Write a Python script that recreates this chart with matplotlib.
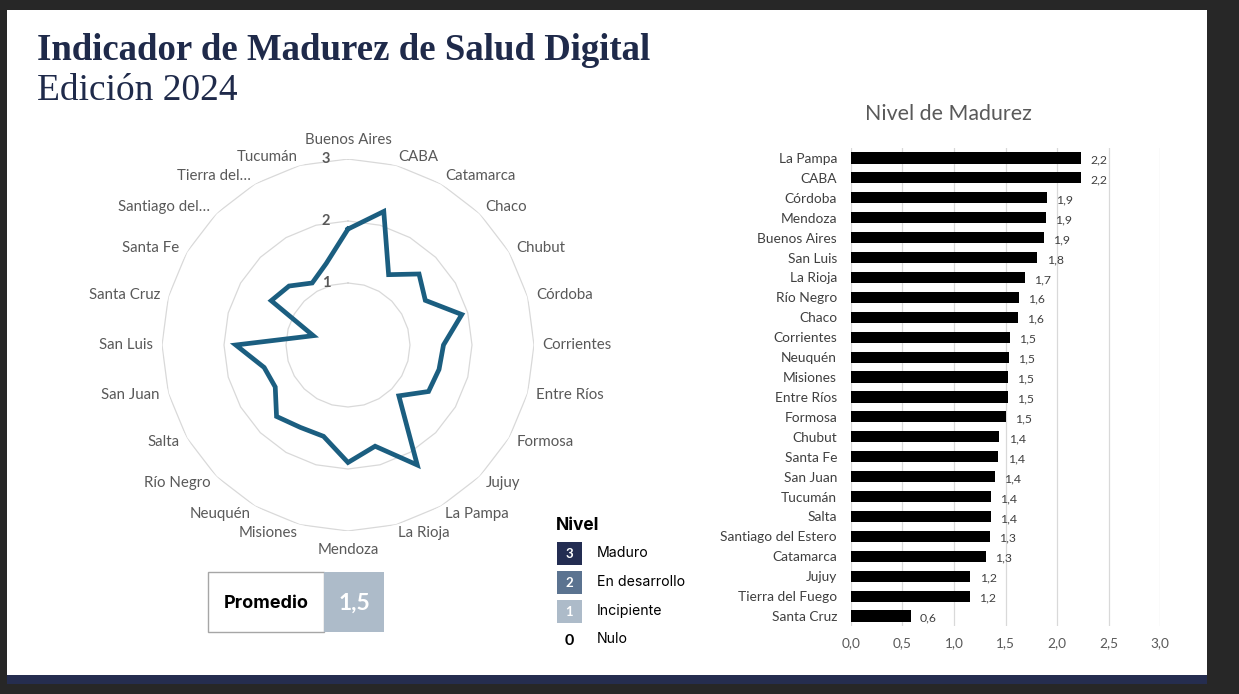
import numpy as np
import matplotlib.pyplot as plt
from matplotlib.patches import Rectangle

# Provincias en el orden del radar (alfabetico, sentido horario desde arriba)
provincias = ['Buenos Aires', 'CABA', 'Catamarca', 'Chaco', 'Chubut', 'Córdoba',
              'Corrientes', 'Entre Ríos', 'Formosa', 'Jujuy', 'La Pampa', 'La Rioja',
              'Mendoza', 'Misiones', 'Neuquén', 'Río Negro', 'Salta', 'San Juan',
              'San Luis', 'Santa Cruz', 'Santa Fe', 'Santiago del Estero',
              'Tierra del Fuego', 'Tucumán']
radar_labels = ['Buenos Aires', 'CABA', 'Catamarca', 'Chaco', 'Chubut', 'Córdoba',
                'Corrientes', 'Entre Ríos', 'Formosa', 'Jujuy', 'La Pampa', 'La Rioja',
                'Mendoza', 'Misiones', 'Neuquén', 'Río Negro', 'Salta', 'San Juan',
                'San Luis', 'Santa Cruz', 'Santa Fe', 'Santiago del…',
                'Tierra del…', 'Tucumán']
nivel = [1.87, 2.23, 1.31, 1.62, 1.44, 1.90,
         1.54, 1.52, 1.50, 1.16, 2.235, 1.69,
         1.895, 1.525, 1.535, 1.63, 1.355, 1.40,
         1.81, 0.58, 1.43, 1.345, 1.155, 1.36]

promedio = 1.5
niveles_ref = ['3', '2', '1', '0']
niveles_txt = ['Maduro', 'En desarrollo', 'Incipiente', 'Nulo']
niveles_col = ['#232d52', '#5b7390', '#adbbc9', None]
xticks = [0, 0.5, 1.0, 1.5, 2.0, 2.5, 3.0]

W, H = 1239, 694
NAVY = '#1f2a4a'
GRAY = '#595959'


def fx(px):
    return px / W


def fy(py):
    return 1 - py / H


def coma(v, fmt='{:.1f}'):
    return fmt.format(v).replace('.', ',')


fig = plt.figure(figsize=(W / 100, H / 100), dpi=100, facecolor='#272727')

# marco blanco y barra inferior
fig.add_artist(Rectangle((fx(7), fy(675)), fx(1200), 665 / H, transform=fig.transFigure,
                         facecolor='white', edgecolor='none', zorder=0))
fig.add_artist(Rectangle((fx(7), fy(684)), fx(1200), 9 / H, transform=fig.transFigure,
                         facecolor='#252d4f', edgecolor='none', zorder=0))

# titulos
fig.text(fx(37), fy(51), 'Indicador de Madurez de Salud Digital', family='Liberation Serif',
         weight='bold', fontsize=26.5, color=NAVY, va='center')
fig.text(fx(37), fy(91), 'Edición 2024', family='Liberation Serif',
         fontsize=27, color=NAVY, va='center')

# ---- radar ----
cx, cy, R = 348, 345, 186
ax = fig.add_axes([fx(cx - R), fy(cy + R), 2 * R / W, 2 * R / H], projection='polar')
ax.set_theta_zero_location('N')
ax.set_theta_direction(-1)
ax.set_ylim(0, 3)
ax.axis('off')

n = len(provincias)
theta = np.linspace(0, 2 * np.pi, n, endpoint=False)
tc = np.append(theta, theta[0])
for k in [1, 2, 3]:
    ax.plot(tc, [k] * (n + 1), color='#d9d9d9', lw=0.9, zorder=1)
vals = np.append(nivel, nivel[0])
ax.plot(tc, vals, color='#1b5e80', lw=3.4, zorder=3, solid_joinstyle='miter')

for k in [1, 2, 3]:
    ax.annotate(str(k), xy=(0, k), xytext=(-22, 0), textcoords='offset pixels',
                ha='center', va='center', fontsize=10.5, weight='bold', color=GRAY,
                family='Lato', zorder=4)

for t, lab in zip(theta, radar_labels):
    s = np.sin(t)
    c = np.cos(t)
    if abs(s) < 0.01:
        ha = 'center'
        va = 'bottom' if c > 0 else 'top'
        r = 3.2
    else:
        ha = 'left' if s > 0 else 'right'
        va = 'center'
        r = 3.14
    ax.text(t, r, lab, ha=ha, va=va, fontsize=10.8, color=GRAY, family='Lato')

# ---- cuadro promedio ----
fig.add_artist(Rectangle((fx(208), fy(632)), 116 / W, 60 / H, transform=fig.transFigure,
                         facecolor='white', edgecolor='#a6a6a6', lw=1))
fig.add_artist(Rectangle((fx(324), fy(632)), 60 / W, 60 / H, transform=fig.transFigure,
                         facecolor='#adbbc9', edgecolor='none'))
fig.text(fx(266), fy(603), 'Promedio', ha='center', va='center', fontsize=13,
         weight='bold', color='black', family='Inter')
fig.text(fx(354), fy(603), coma(promedio), ha='center', va='center', fontsize=16.5,
         weight='bold', color='white', family='Lato')

# ---- leyenda de niveles ----
fig.text(fx(556), fy(526), 'Nivel', ha='left', va='center', fontsize=12.5,
         weight='bold', color='black', family='Inter')
ys = [553, 582, 611, 639]
for ref, txt, col, y in zip(niveles_ref, niveles_txt, niveles_col, ys):
    if col is not None:
        fig.add_artist(Rectangle((fx(557), fy(y + 12)), 25 / W, 23 / H,
                                 transform=fig.transFigure, facecolor=col, edgecolor='none'))
        fig.text(fx(569.5), fy(y + 1), ref, ha='center', va='center', fontsize=9.5,
                 weight='bold', color='white', family='Lato')
    else:
        fig.text(fx(569.5), fy(y + 2), ref, ha='center', va='center', fontsize=11.5,
                 weight='bold', color='black', family='Lato')
    fig.text(fx(597), fy(y), txt, ha='left', va='center', fontsize=10.2,
             color='black', family='Inter')

# ---- barras ----
orden = sorted(range(n), key=lambda i: -nivel[i])
cats = [provincias[i] for i in orden]
bvals = [nivel[i] for i in orden]

ax2 = fig.add_axes([fx(851), fy(626), 309 / W, 478 / H])
y = np.arange(n)
ax2.barh(y, bvals, height=0.56, color='black', zorder=3)
ax2.set_ylim(n - 0.5, -0.5)
ax2.set_xlim(0, 3)
ax2.set_yticks(y)
ax2.set_yticklabels(cats, fontsize=9.9, color='#404040', family='Lato')
ax2.set_xticks(xticks)
ax2.set_xticklabels([coma(v) for v in xticks], fontsize=9.8, color=GRAY, family='Lato')
ax2.tick_params(length=0)
ax2.tick_params(axis='y', pad=10)
ax2.tick_params(axis='x', pad=8)
ax2.grid(axis='x', color='#d9d9d9', lw=0.9, zorder=0)
for sp in ax2.spines.values():
    sp.set_visible(False)
ax2.set_facecolor('none')
for yi, v in zip(y, bvals):
    ax2.text(v + 0.09, yi + 0.1, coma(v), va='center', ha='left', fontsize=8.8,
             color='#404040', family='Lato')

fig.text(fx(948), fy(114), 'Nivel de Madurez', ha='center', va='center',
         fontsize=15.4, color=GRAY, family='Lato')

fig.savefig('out.png', dpi=100, facecolor=fig.get_facecolor())
